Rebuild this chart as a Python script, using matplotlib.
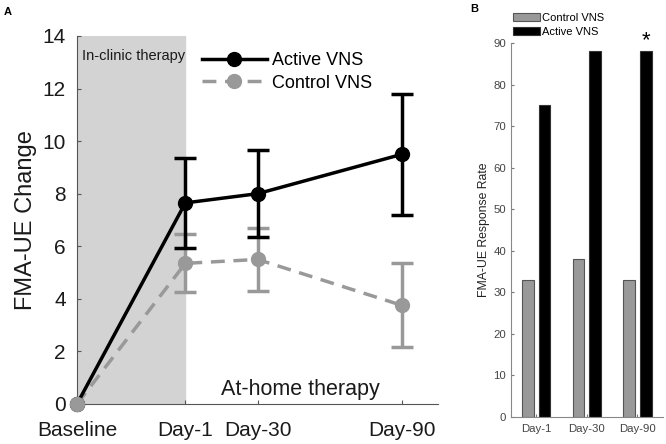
import numpy as np
import matplotlib.pyplot as plt

plt.rcParams['font.family'] = ['Liberation Sans', 'DejaVu Sans']

# panel A data
days = [-45, 0, 30, 90]
tick_labels = ['Baseline', 'Day-1', 'Day-30', 'Day-90']
active_mean = [0, 7.65, 8.0, 9.5]
active_err = [0, 1.7, 1.65, 2.3]
control_mean = [0, 5.35, 5.5, 3.75]
control_err = [0, 1.1, 1.2, 1.6]

# panel B data
groups = ['Day-1', 'Day-30', 'Day-90']
control_rate = [33, 38, 33]
active_rate = [75, 88, 88]

dark = '#000000'
grey = '#999999'

fig = plt.figure(figsize=(6.66, 4.44), dpi=100)

# ---- panel A
ax = fig.add_axes([0.1156, 0.0901, 0.5424, 0.8289])
ax.axvspan(-45, 0, color='#d3d3d3', zorder=0)

ax.plot(days, control_mean, '--', color=grey, lw=2.5, dashes=(4, 2.5),
        marker='o', ms=10, label='Control VNS', zorder=3, clip_on=False)
ax.errorbar(days[1:], control_mean[1:], yerr=control_err[1:], fmt='none',
            ecolor=grey, elinewidth=2.5, capsize=8, capthick=2.5, zorder=3)
ax.plot(days, active_mean, '-', color=dark, lw=2.5, marker='o', ms=10,
        label='Active VNS', zorder=4, clip_on=False)
ax.errorbar(days[1:], active_mean[1:], yerr=active_err[1:], fmt='none',
            ecolor=dark, elinewidth=2.5, capsize=8, capthick=2.5, zorder=4)
# baseline dot drawn on top
ax.plot(days[0], 0, 'o', color=grey, ms=10, zorder=5, clip_on=False)

ax.set_xlim(-45, 105)
ax.set_ylim(0, 14)
ax.set_yticks(range(0, 15, 2))
ax.set_xticks(days)
ax.set_xticklabels(tick_labels)
ax.tick_params(labelsize=15, direction='in', length=3, colors='#555555',
               labelcolor='#1a1a1a')
ax.tick_params(axis='x', pad=12)
ax.tick_params(axis='y', pad=8)
ax.spines['top'].set_visible(False)
ax.spines['right'].set_visible(False)
ax.spines['left'].set_color('#555555')
ax.spines['bottom'].set_color('#555555')
ax.set_ylabel('FMA-UE Change', fontsize=17, color='#1a1a1a', labelpad=4)

ax.text(-43, 13.5, 'In-clinic therapy', fontsize=10.5, va='top', color='#1a1a1a')
ax.text(15, 0.55, 'At-home therapy', fontsize=15.5, va='center', color='#1a1a1a')

handles, labels = ax.get_legend_handles_labels()
ax.legend(handles[::-1], labels[::-1], loc='upper left',
          bbox_to_anchor=(0.3, 1.0), frameon=False, fontsize=13,
          handlelength=3.6, handletextpad=0.3, labelspacing=0.3)

fig.text(0.005, 0.985, 'A', fontsize=8, fontweight='bold', va='top')

# ---- panel B
bx = fig.add_axes([0.767, 0.0608, 0.228, 0.8422])
x = np.arange(1, len(groups) + 1)
w = 0.23
bx.bar(x - 0.165, control_rate, w, color='#999999', edgecolor='#555555',
       lw=0.8, label='Control VNS')
bx.bar(x + 0.165, active_rate, w, color='#000000', edgecolor='#333333',
       lw=0.8, label='Active VNS')
bx.text(x[2] + 0.165, 88, '*', fontsize=16, ha='center', va='bottom')

bx.set_xlim(0.5, 3.5)
bx.set_ylim(0, 90)
bx.set_yticks(range(0, 91, 10))
bx.set_xticks(x)
bx.set_xticklabels(groups)
bx.tick_params(labelsize=8.2, direction='in', length=2, colors='#777777',
               labelcolor='#444444')
bx.tick_params(axis='x', pad=5)
bx.spines['top'].set_visible(False)
bx.spines['right'].set_visible(False)
bx.spines['left'].set_color('#888888')
bx.spines['bottom'].set_color('#888888')
bx.set_ylabel('FMA-UE Response Rate', fontsize=8.8, color='#222222', labelpad=2)
bx.legend(loc='lower left', bbox_to_anchor=(0.0, 1.01), frameon=False,
          fontsize=8, handlelength=2.4, handleheight=0.8, handletextpad=0.2,
          labelspacing=0.35, borderaxespad=0, borderpad=0.2)

fig.text(0.706, 0.99, 'B', fontsize=8, fontweight='bold', va='top')

fig.savefig('out.png', dpi=100)
